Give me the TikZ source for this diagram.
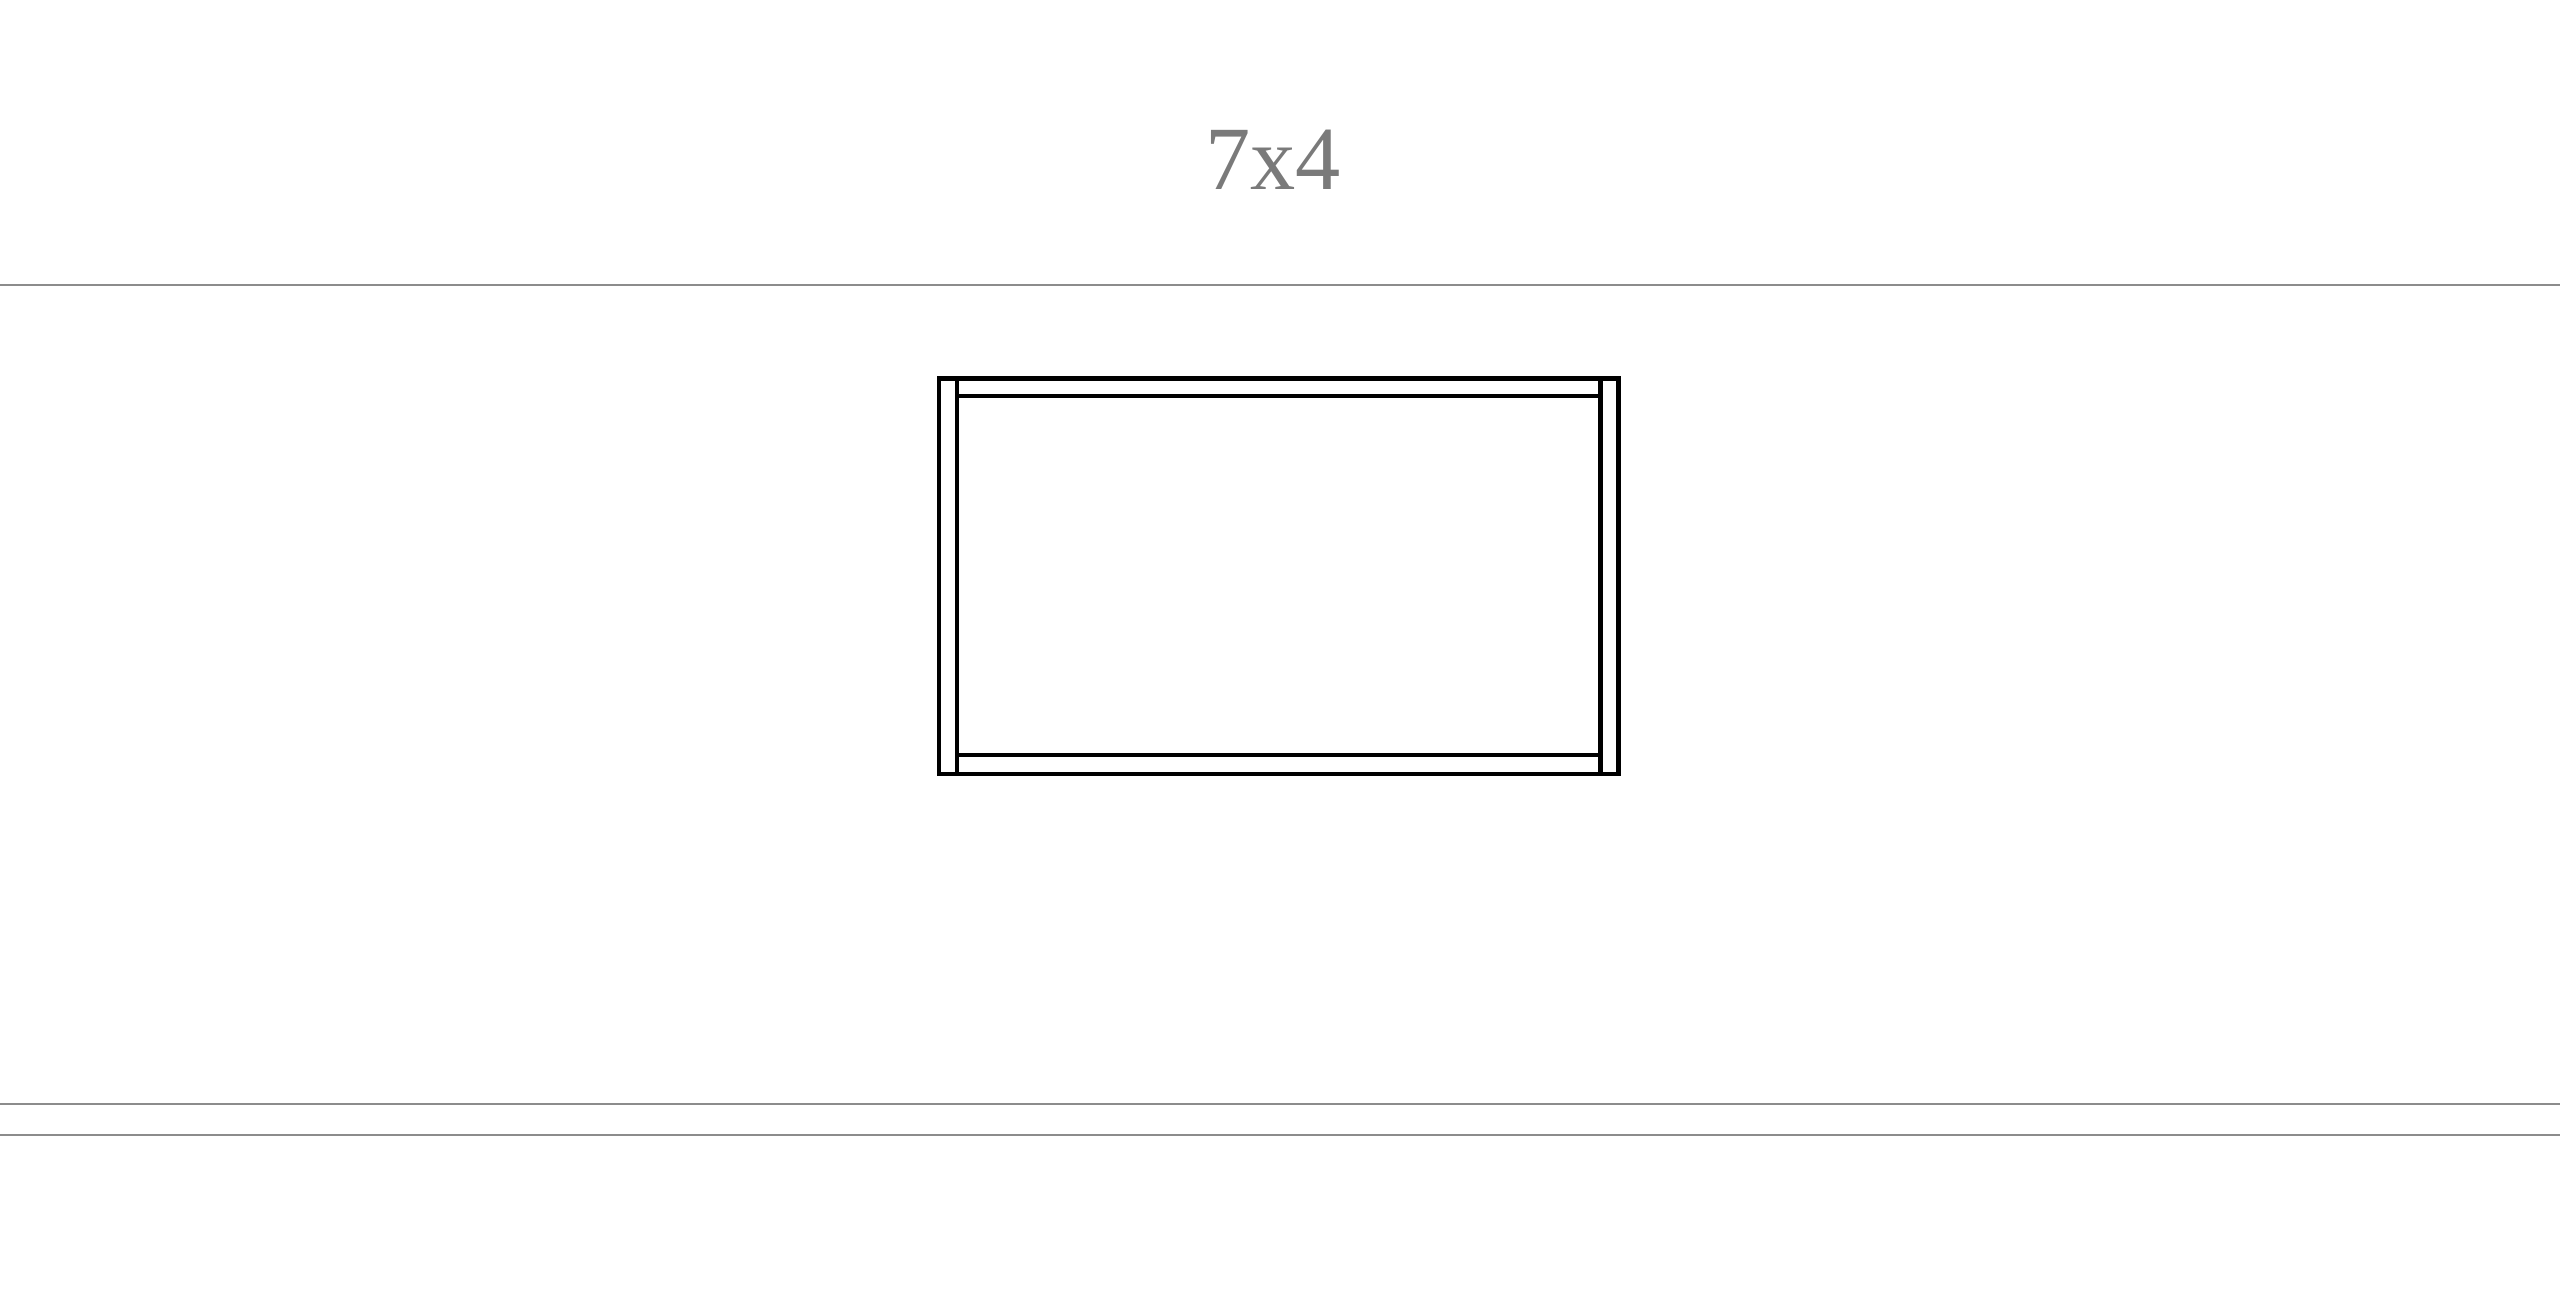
\documentclass[tikz,border=0pt]{standalone}
\usepackage{fontspec}
\setmainfont{Liberation Serif}
\usepackage{tikz}

\begin{document}
\begin{tikzpicture}
\useasboundingbox (0,0) rectangle (25.6,13.01);
\begin{scope}
%title and rules
\node[text=black!52, font=\fontsize{25.7}{30}\selectfont, anchor=base] (title) at (12.73,11.11) {7x4};
\draw[black!45, line width=0.5pt] (0,10.157)--(25.6,10.157);
\draw[black!45, line width=0.5pt] (0,1.973)--(25.6,1.973);
\draw[black!45, line width=0.5pt] (0,1.663)--(25.6,1.663);
%frame
\draw[line width=1.15pt] (9.39,5.273) rectangle (16.185,9.225);
\draw[line width=1.15pt] (9.57,5.273)--(9.57,9.225);
\draw[line width=1.15pt] (16.005,5.273)--(16.005,9.225);
\draw[line width=1.15pt] (9.57,9.05)--(16.005,9.05);
\draw[line width=1.15pt] (9.57,5.457)--(16.005,5.457);
\end{scope}
\end{tikzpicture}
\end{document}
